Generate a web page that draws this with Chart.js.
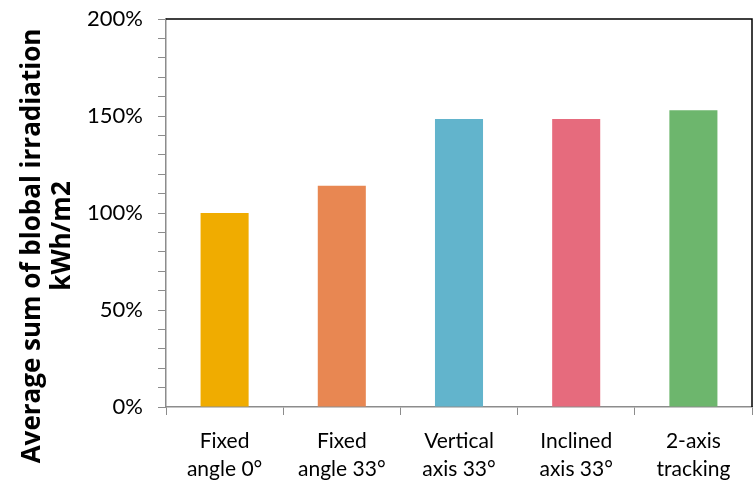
<!DOCTYPE html>
<html>
<head>
<meta charset="utf-8">
<script src="https://cdn.jsdelivr.net/npm/chart.js@4/dist/chart.umd.min.js"></script>
<style>
    html, body { margin: 0; padding: 0; background: #ffffff; }
    #wrap { width: 756px; height: 490px; }
</style>
</head>
<body>
<div id="wrap"><canvas id="grafica"></canvas></div>
<script>
// Datos
const categorias = [
    ['Fixed', 'angle 0°'],
    ['Fixed', 'angle 33°'],
    ['Vertical', 'axis 33°'],
    ['Inclined', 'axis 33°'],
    ['2-axis', 'tracking'],
];
const valores = [100, 114, 148.5, 148.5, 153];
const colores = ['#f0ac00', '#e88752', '#62b4cc', '#e66b7d', '#6db66d'];
const tituloY = ['Average sum of blobal irradiation', 'kWh/m2'];

// Lineas negras arriba y a la derecha del area del grafico, y el titulo del eje Y
const marco = {
    id: 'marco',
    afterDatasetsDraw(chart) {
        const a = chart.chartArea;
        const ctx = chart.ctx;
        ctx.save();
        ctx.strokeStyle = '#000000';
        ctx.lineWidth = 1.5;
        ctx.beginPath();
        ctx.moveTo(a.left, a.top);
        ctx.lineTo(a.right, a.top);
        ctx.lineTo(a.right, a.bottom);
        ctx.stroke();
        ctx.restore();
    },
    afterDraw(chart) {
        const ctx = chart.ctx;
        // El titulo no esta centrado en el area, asi que se pinta a mano
        const posiciones = [[33, 246], [63, 236]];
        ctx.save();
        ctx.fillStyle = '#000000';
        ctx.font = 'bold 26px "Open Sans"';
        ctx.textAlign = 'center';
        ctx.textBaseline = 'middle';
        tituloY.forEach(function (linea, i) {
            ctx.save();
            ctx.translate(posiciones[i][0], posiciones[i][1]);
            ctx.rotate(-Math.PI / 2);
            ctx.fillText(linea, 0, 0);
            ctx.restore();
        });
        ctx.restore();
    },
};

new Chart(document.getElementById('grafica'), {
    type: 'bar',
    data: {
        labels: categorias,
        datasets: [
            {
                data: valores,
                backgroundColor: colores,
                borderWidth: 0,
                barPercentage: 0.41,
                categoryPercentage: 1,
            },
        ],
    },
    plugins: [marco],
    options: {
        responsive: true,
        maintainAspectRatio: false,
        animation: false,
        layout: {
            padding: { top: 19, right: 4, left: 0, bottom: 0 },
        },
        plugins: {
            legend: { display: false },
            tooltip: { enabled: false },
        },
        scales: {
            x: {
                grid: {
                    display: true,
                    offset: true,
                    drawOnChartArea: false,
                    drawTicks: true,
                    tickLength: 8,
                    color: '#8c8c8c',
                },
                border: { color: '#8c8c8c', width: 1.5 },
                ticks: {
                    color: '#000000',
                    font: { family: 'Lato', size: 21, lineHeight: 1.35 },
                    padding: 12,
                    maxRotation: 0,
                    autoSkip: false,
                },
                afterFit(scale) {
                    scale.height = 83;
                    scale.paddingLeft = 0;
                    scale.paddingRight = 0;
                },
            },
            y: {
                min: 0,
                max: 200,
                grid: {
                    display: true,
                    drawOnChartArea: false,
                    drawTicks: true,
                    tickLength: 8,
                    color: '#8c8c8c',
                },
                border: { color: '#8c8c8c', width: 1.5 },
                ticks: {
                    stepSize: 10,
                    autoSkip: false,
                    color: '#000000',
                    font: { family: 'Lato', size: 22 },
                    padding: 15,
                    callback: function (v) {
                        return v % 50 === 0 ? v + '%' : '';
                    },
                },
                title: { display: false },
                afterFit(scale) {
                    scale.width = 166;
                    scale.paddingTop = 0;
                    scale.paddingBottom = 0;
                },
            },
        },
    },
});
</script>
</body>
</html>
